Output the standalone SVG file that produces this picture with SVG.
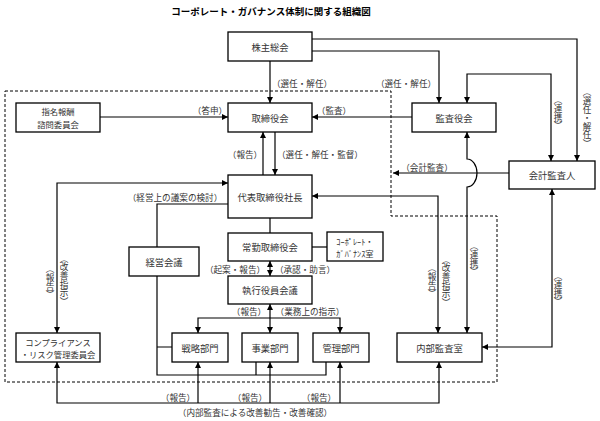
<svg xmlns="http://www.w3.org/2000/svg" width="600" height="421" viewBox="0 0 600 421">
<defs>
<style>
.b{fill:#fff;stroke:#000;stroke-width:1.3}
.t{font-family:"Noto Sans CJK JP","Noto Sans",sans-serif;font-size:9.3px;fill:#333;text-anchor:middle;dominant-baseline:central}
.s{font-size:8.3px}
.l{font-family:"Noto Sans CJK JP","Noto Sans",sans-serif;font-size:8.6px;fill:#333;text-anchor:middle;dominant-baseline:central}
.v{writing-mode:vertical-rl}
.c{fill:none;stroke:#000;stroke-width:1.2}
.a{marker-end:url(#ah)}
.aa{marker-start:url(#ah);marker-end:url(#ah)}
.d{fill:none;stroke:#000;stroke-width:1;stroke-dasharray:3 2}
</style>
<marker id="ah" viewBox="0 0 10 10" refX="10" refY="5" markerWidth="6" markerHeight="6" orient="auto-start-reverse" markerUnits="userSpaceOnUse"><path d="M0,0 L10,5 L0,10 z" fill="#000"/></marker>
</defs>
<rect width="600" height="421" fill="#fff"/>
<text x="271" y="11" class="t" style="font-weight:bold;font-size:9.5px;fill:#000">コーポレート・ガバナンス体制に関する組織図</text>
<path class="d" d="M5,91 H391 V216 H497 V382 H5 Z"/>
<g id="connectors">
<path class="c a" d="M270,61 V103"/>
<path class="c a" d="M312,51 H439 V103"/>
<path class="c a" d="M312,39 H577 V161"/>
<path class="c aa" d="M467,103 V74 H551 V161"/>
<path class="c a" d="M100,117 H228"/>
<path class="c a" d="M412,117 H312"/>
<path class="c a" d="M263,175 V132"/>
<path class="c a" d="M275,132 V175"/>
<path class="c aa" d="M228,183 H57 V333"/>
<path class="c" d="M228,204 H157 V247"/>
<path class="c" d="M157,276 V375 H326 V362 M157,347 H172 M256,375 V362"/>
<path class="c" d="M270,218 V233"/>
<path class="c" d="M312,247 H327"/>
<path class="c aa" d="M270,261 V276"/>
<path class="c aa" d="M270,304 V333"/>
<path class="c aa" d="M198,333 V318 H340 V333"/>
<path class="c aa" d="M312,196 H438 V333"/>
<path class="c aa" d="M467,132 V159 A10,14 0 0 1 467,187 V333"/>
<path class="c a" d="M509,173 H393"/>
<path class="c aa" d="M552,189 V347 H482"/>
<path class="c aa" d="M57,362 V403 H439 V362"/>
<path class="c a" d="M198,403 V362"/>
<path class="c a" d="M270,403 V362"/>
<path class="c a" d="M340,403 V362"/>
</g>
<g id="labels">
<text class="l" x="302" y="83">（選任・解任）</text>
<text class="l" x="406" y="83">（選任・解任）</text>
<text class="l" x="210" y="110">（答申）</text>
<text class="l" x="334" y="110">（監査）</text>
<text class="l" x="245" y="154">（報告）</text>
<text class="l" x="320" y="154">（選任・解任・監督）</text>
<text class="l" x="175" y="197">（経営上の議案の検討）</text>
<text class="l" x="427" y="167">（会計監査）</text>
<text class="l" x="235" y="269">（起案・報告）</text>
<text class="l" x="305" y="269">（承認・助言）</text>
<text class="l" x="249" y="311">（報告）</text>
<text class="l" x="310" y="311">（業務上の指示）</text>
<text class="l" x="178" y="397">（報告）</text>
<text class="l" x="250" y="397">（報告）</text>
<text class="l" x="319" y="397">（報告）</text>
<text class="l" x="255" y="412">（内部監査による改善勧告・改善確認）</text>
<text class="l v" x="50" y="282">（報告）</text>
<text class="l v" x="64" y="280">（改善指示）</text>
<text class="l v" x="432" y="281">（報告）</text>
<text class="l v" x="446" y="281">（改善指示）</text>
<text class="l v" x="474" y="259">（連携）</text>
<text class="l v" x="558" y="289">（連携）</text>
<text class="l v" x="558" y="113">（連携）</text>
<text class="l v" x="587" y="118">（選任・解任）</text>
</g>
<g id="kabunushi"><rect class="b" x="228" y="32" width="84" height="29"/><text class="t" x="270" y="46.5">株主総会</text></g>
<g id="torishimari"><rect class="b" x="228" y="103" width="84" height="29"/><text class="t" x="270" y="117.5">取締役会</text></g>
<g id="kansayaku"><rect class="b" x="412" y="103" width="84" height="29"/><text class="t" x="454" y="117.5">監査役会</text></g>
<g id="kaikei"><rect class="b" x="509" y="161" width="86" height="28"/><text class="t" x="552" y="175">会計監査人</text></g>
<g id="shimei"><rect class="b" x="16" y="103" width="84" height="29"/><text class="t s" x="58" y="111">指名報酬</text><text class="t s" x="58" y="124">諮問委員会</text></g>
<g id="daihyo"><rect class="b" x="228" y="175" width="84" height="43"/><text class="t" x="270" y="196.5">代表取締役社長</text></g>
<g id="jokin"><rect class="b" x="228" y="233" width="84" height="28"/><text class="t" x="270" y="247">常勤取締役会</text></g>
<g id="corpgov"><rect class="b" x="327" y="232" width="56" height="29"/><text class="t s" x="355" y="241">ｺｰﾎﾟﾚｰﾄ・</text><text class="t s" x="355" y="253">ｶﾞﾊﾞﾅﾝｽ室</text></g>
<g id="shikko"><rect class="b" x="228" y="276" width="84" height="28"/><text class="t" x="270" y="290">執行役員会議</text></g>
<g id="keiei"><rect class="b" x="129" y="247" width="70" height="29"/><text class="t" x="164" y="261.5">経営会議</text></g>
<g id="senryaku"><rect class="b" x="172" y="333" width="56" height="29"/><text class="t" x="200" y="347.5">戦略部門</text></g>
<g id="jigyo"><rect class="b" x="242" y="333" width="56" height="29"/><text class="t" x="270" y="347.5">事業部門</text></g>
<g id="kanri"><rect class="b" x="313" y="333" width="56" height="29"/><text class="t" x="341" y="347.5">管理部門</text></g>
<g id="naibu"><rect class="b" x="397" y="333" width="85" height="29"/><text class="t" x="439.5" y="347.5">内部監査室</text></g>
<g id="compliance"><rect class="b" x="16" y="333" width="84" height="29"/><text class="t s" x="58" y="342">コンプライアンス</text><text class="t s" x="58" y="354">・リスク管理委員会</text></g>
</svg>
